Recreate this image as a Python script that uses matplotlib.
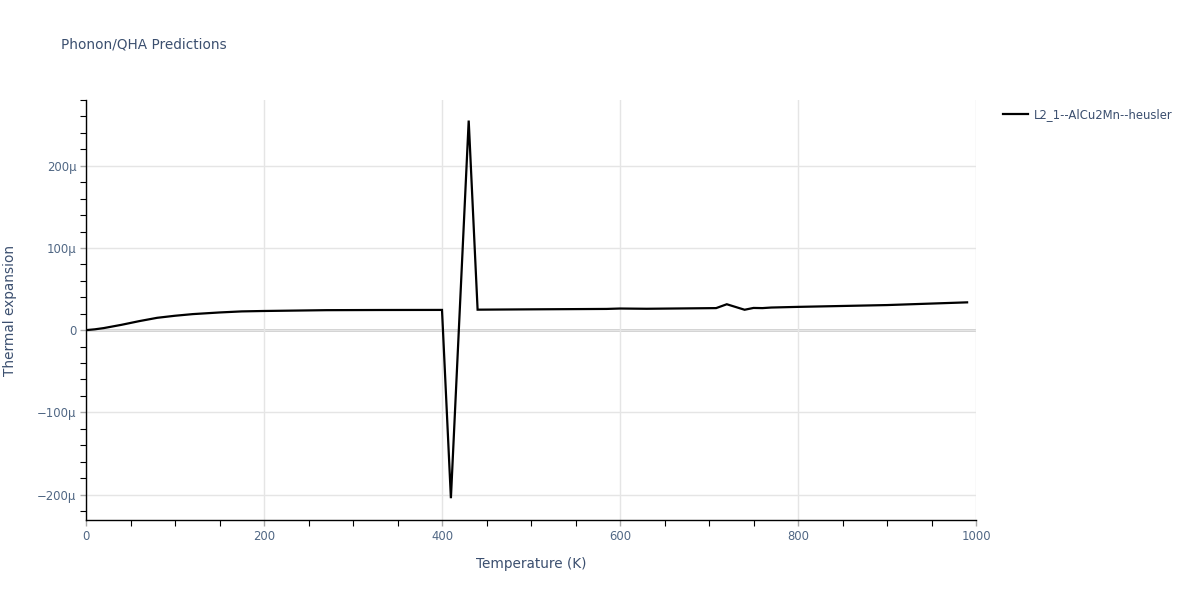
import numpy as np
import matplotlib
matplotlib.use("Agg")
import matplotlib.pyplot as plt
from matplotlib.ticker import FuncFormatter, MultipleLocator

# Data (temperature in K, thermal expansion in micro-units 1e-6 /K)
temperature = [0, 10, 20, 40, 60, 80, 100, 120, 150, 175, 200, 270, 330, 400,
               410, 430, 440, 500, 585, 600, 630, 708, 720, 740, 750, 760,
               770, 800, 900, 990]
expansion_micro = [0, 1.0, 2.5, 6.5, 11.0, 15.0, 17.5, 19.5, 21.5, 22.8, 23.3,
                   24.3, 24.5, 24.6, -204.5, 255.0, 24.9, 25.3, 25.8, 26.3,
                   26.0, 26.8, 31.5, 24.8, 27.0, 26.8, 27.5, 28.3, 30.5, 33.8]
series_name = "L2_1--AlCu2Mn--heusler"
title = "Phonon/QHA Predictions"
x_label = "Temperature (K)"
y_label = "Thermal expansion"

expansion = np.array(expansion_micro) * 1e-6

plt.rcParams['font.family'] = ['DejaVu Sans']
text_color = '#3b4f6f'
tick_color = '#506784'

fig = plt.figure(figsize=(12, 6), dpi=100)
ax = fig.add_axes([86/1200, 1 - 520/600, (976 - 86)/1200, 420/600])

ax.plot(temperature, expansion, color='black', linewidth=1.6, label=series_name,
        zorder=3, solid_joinstyle='miter')

ax.set_xlim(0, 1000)
ax.set_ylim(-231e-6, 280e-6)

ax.xaxis.set_major_locator(MultipleLocator(200))
ax.xaxis.set_minor_locator(MultipleLocator(50))
ax.yaxis.set_major_locator(MultipleLocator(100e-6))
ax.yaxis.set_minor_locator(MultipleLocator(20e-6))

def yfmt(v, pos):
    m = round(v * 1e6)
    if m == 0:
        return "0"
    s = f"{abs(m)}μ"
    return ("\u2212" + s) if m < 0 else s

ax.yaxis.set_major_formatter(FuncFormatter(yfmt))

ax.grid(True, which='major', color='#e5e5e5', linewidth=1, zorder=0)
ax.axhline(0, color='#cccccc', linewidth=2, zorder=1)

for side in ['top', 'right']:
    ax.spines[side].set_visible(False)
for side in ['left', 'bottom']:
    ax.spines[side].set_color('black')
    ax.spines[side].set_linewidth(1.0)

ax.tick_params(which='major', direction='out', length=4, width=1.0,
               color='#aaaaaa', labelsize=8.4, labelcolor=tick_color, pad=3)
ax.tick_params(which='minor', direction='out', length=4, width=0.8, color='black')

ax.set_xlabel(x_label, fontsize=9.8, color=text_color, labelpad=10)
ax.set_ylabel(y_label, fontsize=9.8, color=text_color, labelpad=14)

fig.text(61/1200, 1 - 45/600, title, fontsize=9.8, color=text_color,
         va='center', ha='left')

ax.legend(loc='upper left', bbox_to_anchor=(992/1200, 1 - 98/600),
          bbox_transform=fig.transFigure, frameon=False, fontsize=8.4,
          handlelength=2.2, handletextpad=0.5, labelcolor=text_color)

fig.savefig("out.png", dpi=100, facecolor='white')
